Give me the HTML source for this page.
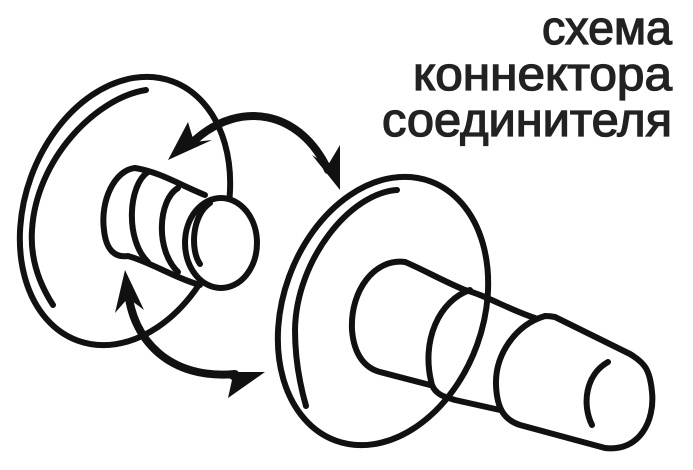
<!DOCTYPE html>
<html><head><meta charset="utf-8"><style>
html,body{margin:0;padding:0;background:#fff;width:693px;height:470px;overflow:hidden}
</style></head><body>
<svg width="693" height="470" viewBox="0 0 693 470" xmlns="http://www.w3.org/2000/svg">
<g fill="#222" stroke="#222" stroke-width="1.3" font-family="Liberation Sans, sans-serif" font-size="47" text-anchor="end">
<text x="672" y="44" textLength="130" lengthAdjust="spacingAndGlyphs">схема</text>
<text x="672" y="90" textLength="259" lengthAdjust="spacingAndGlyphs">коннектора</text>
<text x="672" y="136" textLength="290" lengthAdjust="spacingAndGlyphs">соединителя</text>
</g>
<g fill="none" stroke="#111" stroke-width="6" stroke-linecap="round" stroke-linejoin="round">
<!-- left disk -->
<ellipse cx="125" cy="211" rx="100" ry="138" transform="rotate(20 125 211)"/>
<path d="M146 90 C95 98 36 160 32 230 C30 260 40 285 53 305"/>
<!-- left plug -->
<path d="M135 168 C115 170 100 200 104 230 C106 250 115 258 128 256 C150 262 175 278 200 285"/>
<path d="M135 168 C160 172 180 185 205 195"/>
<ellipse cx="221" cy="243" rx="36" ry="45" fill="#fff"/>
<path d="M148 172 C128 185 125 240 148 262"/>
<path d="M178 188 C158 200 155 250 178 272"/>
<path d="M210 203 C192 215 190 250 200 264"/>
<!-- right disk -->
<ellipse cx="383" cy="311" rx="100" ry="138" transform="rotate(20 383 311)"/>
<path d="M397 190 C350 193 296 260 295 330 C295 360 300 385 306 406"/>
<!-- right plug -->
<path d="M405 262 C375 258 350 290 352 330 C354 355 365 368 380 372 L430 385"/>
<path d="M405 262 C420 268 445 282 465 290"/>
<path d="M470 290 C440 300 420 340 432 385 C436 395 445 397 455 400 L500 410"/>
<path d="M465 290 C485 295 510 310 535 318"/>
<path d="M545 316 C515 325 495 355 496 385 C497 410 505 420 520 425 L605 448 C640 452 655 420 652 392 C650 370 645 363 630 354 L555 317 C550 316 548 316 545 316"/>
<path d="M608 362 C585 375 582 405 592 425"/>
</g>
<!-- arrows -->
<g fill="none" stroke="#111" stroke-width="8" stroke-linecap="round">
<path d="M195 140 C240 100 300 110 328 170"/>
<path d="M128 290 C132 340 170 380 235 374"/>
</g>
<g fill="#111">
<polygon points="168,160 188,122 194,142 212,140"/>
<polygon points="340,190 312,155 328,165 340,145"/>
<polygon points="125,270 115,313 128,298 144,310"/>
<polygon points="265,372 220,372 232,380 228,398"/>
</g>
</svg>
</body></html>
